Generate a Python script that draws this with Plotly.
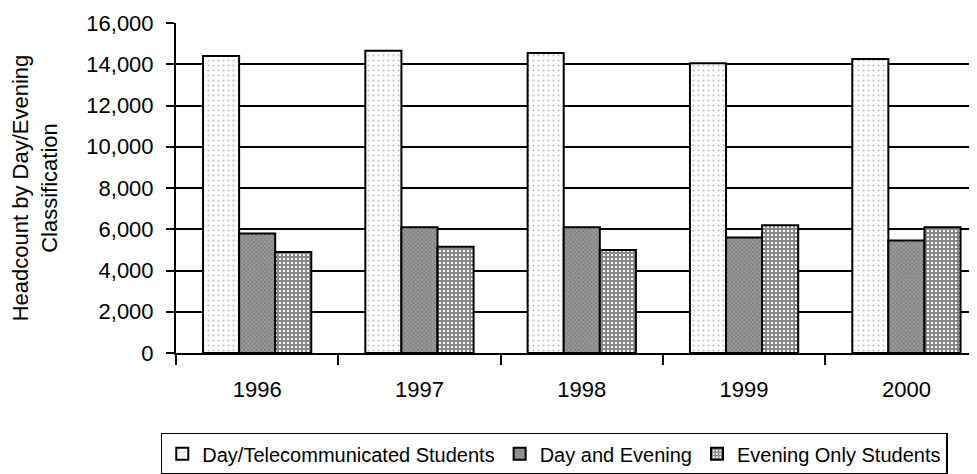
import plotly.graph_objects as go

years = ["1996", "1997", "1998", "1999", "2000"]
day_tele = [14400, 14650, 14550, 14050, 14250]
day_evening = [5800, 6100, 6100, 5600, 5450]
evening_only = [4900, 5150, 5000, 6200, 6100]

series_names = ["Day/Telecommunicated Students", "Day and Evening", "Evening Only Students"]

fig = go.Figure()
fig.add_trace(go.Bar(
    x=years, y=day_tele, name=series_names[0],
    marker=dict(color="white", line=dict(color="black", width=2),
                pattern=dict(shape=".", fgcolor="#808080", bgcolor="white", size=5, solidity=0.15)),
))
fig.add_trace(go.Bar(
    x=years, y=day_evening, name=series_names[1],
    marker=dict(color="#8c8c8c", line=dict(color="black", width=2),
                pattern=dict(shape="x", fgcolor="#555555", bgcolor="#9a9a9a", size=3, solidity=0.4)),
))
fig.add_trace(go.Bar(
    x=years, y=evening_only, name=series_names[2],
    marker=dict(color="white", line=dict(color="black", width=2),
                pattern=dict(shape="+", fgcolor="#111111", bgcolor="white", size=4, solidity=0.75)),
))

# page body has an 8px margin, so the figure is offset by 8px inside the window
fig.update_layout(
    width=969, height=466,
    margin=dict(l=168, r=0, t=15, b=121, autoexpand=False),
    paper_bgcolor="white", plot_bgcolor="white",
    barmode="group", bargap=0.333, bargroupgap=0,
    font=dict(family="Liberation Sans, Arial, sans-serif", size=21, color="black"),
    showlegend=True,
    legend=dict(orientation="h", x=-0.019, xanchor="left", y=-0.242, yanchor="top",
                bordercolor="black", borderwidth=1.5, font=dict(size=20),
                itemwidth=30, tracegroupgap=0),
    xaxis=dict(range=[-0.5, 4.435], showline=True, linecolor="black", linewidth=2,
               ticks="outside", tickson="boundaries", ticklen=10, tickcolor="black", tickwidth=2,
               ticklabelstandoff=16, tickfont=dict(size=22),
               showgrid=False, fixedrange=True, automargin=False),
    yaxis=dict(range=[0, 16000], tickvals=[0, 2000, 4000, 6000, 8000, 10000, 12000, 14000, 16000],
               tickformat=",d", showline=True, linecolor="black", linewidth=2,
               ticks="outside", ticklen=8, tickcolor="black", tickwidth=2,
               ticklabelstandoff=8, automargin=False, tickfont=dict(size=22),
               showgrid=True, gridcolor="black", gridwidth=2, zeroline=False,
               title=dict(text="Headcount by Day/Evening<br>Classification", standoff=34,
                          font=dict(size=22))),
)

fig.write_html("out.html")
